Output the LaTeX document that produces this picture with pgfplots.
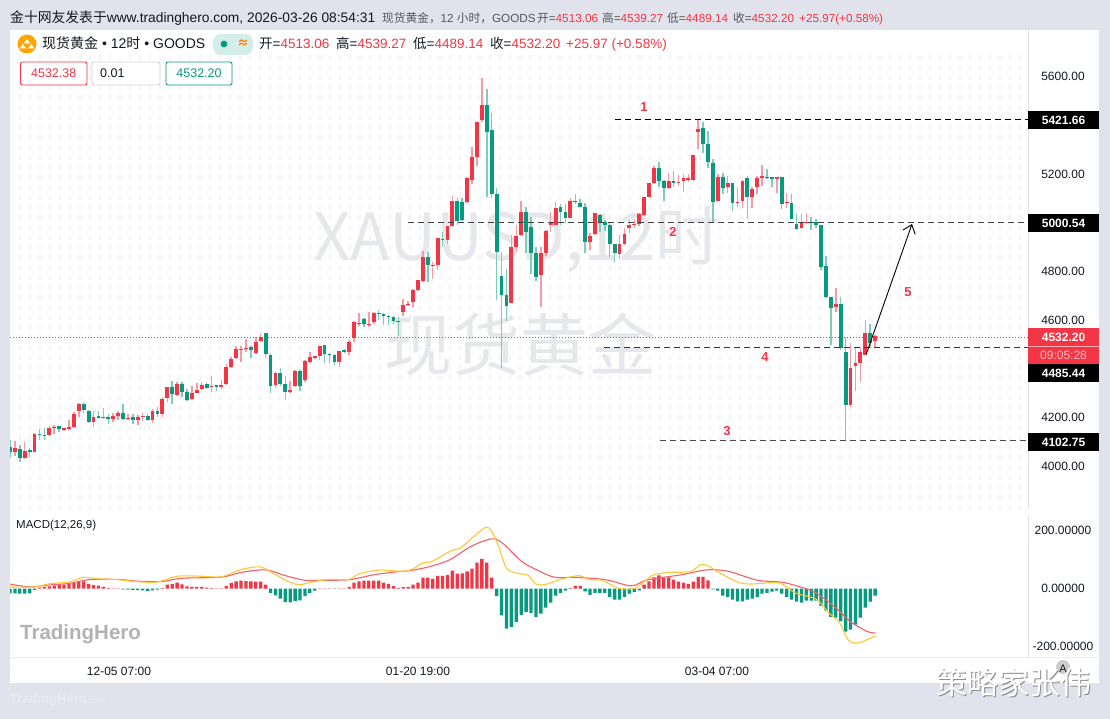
\documentclass[border=0pt]{standalone}
\usepackage{pgfplots}
\usepackage{pgfplotstable}
\usepackage{fontspec}
\pgfplotsset{compat=1.18}
\usetikzlibrary{arrows.meta}
\setmainfont{Liberation Sans}
\newfontfamily\cjk{Noto Sans CJK SC}
\newcommand{\zh}[1]{{\cjk #1}}
\definecolor{tvred}{HTML}{F23645}
\definecolor{tvgreen}{HTML}{089981}
\definecolor{redwick}{HTML}{F79AA3}
\definecolor{greenwick}{HTML}{7FCCBA}
\definecolor{pagegrey}{HTML}{E0E3EB}
\definecolor{griddot}{HTML}{F3F4F7}
\definecolor{wm}{HTML}{E6E7EB}
\definecolor{ink}{HTML}{131722}
\definecolor{hdgrey}{HTML}{55585F}
\definecolor{fastl}{HTML}{FFC733}
\definecolor{slowl}{HTML}{F4616A}
\pgfplotstableread{
i o h l c
1 4058 4104 4043 4073
3 4032 4097 4029 4062
5 4059 4134 4059 4133
8 4129 4166 4127 4158
9 4159 4169 4131 4162
11 4149 4158 4147 4155
12 4153 4189 4151 4159
13 4160 4223 4159 4214
14 4227 4260 4203 4255
17 4182 4226 4162 4200
19 4197 4237 4192 4200
21 4194 4216 4182 4205
22 4205 4227 4189 4219
24 4194 4214 4192 4199
26 4190 4210 4167 4200
27 4203 4216 4186 4207
29 4189 4234 4178 4226
31 4214 4282 4201 4277
32 4281 4326 4263 4326
34 4293 4346 4292 4337
37 4274 4330 4271 4299
38 4299 4340 4299 4312
39 4316 4344 4312 4334
41 4325 4371 4305 4329
43 4326 4353 4318 4334
44 4335 4418 4333 4405
45 4405 4446 4403 4441
46 4445 4494 4442 4481
47 4478 4493 4427 4481
48 4482 4522 4470 4486
50 4464 4528 4463 4511
51 4512 4546 4508 4528
54 4333 4388 4322 4381
57 4303 4349 4299 4312
58 4329 4394 4326 4392
60 4354 4436 4347 4433
61 4429 4470 4422 4447
62 4444 4452 4440 4450
63 4450 4493 4436 4491
67 4429 4474 4406 4473
69 4470 4518 4456 4509
70 4525 4597 4511 4593
71 4584 4628 4576 4589
73 4580 4632 4570 4582
74 4591 4632 4584 4630
80 4633 4686 4617 4661
81 4661 4678 4659 4665
82 4673 4726 4655 4723
83 4723 4765 4721 4762
84 4759 4884 4756 4860
86 4823 4840 4769 4827
87 4826 4936 4806 4936
89 4930 4986 4912 4984
90 4986 5110 4984 5090
93 5086 5189 5083 5181
94 5175 5309 5157 5268
95 5271 5415 5233 5415
96 5420 5593 5415 5481
102 4669 4947 4669 4901
103 4901 4990 4881 4945
104 4949 5089 4947 5045
108 4785 4899 4652 4874
109 4877 4970 4864 4966
110 4990 5042 4963 4997
111 4990 5086 4990 5059
114 5020 5100 5020 5090
118 4922 4956 4887 4946
119 4952 5041 4949 5041
124 4870 4949 4849 4912
125 4912 4976 4908 4953
126 4976 5011 4959 4990
127 4989 5013 4976 4993
128 4994 5038 4986 5035
129 5031 5106 5030 5104
130 5104 5164 5104 5161
131 5164 5232 5161 5226
134 5141 5205 5137 5171
136 5164 5195 5150 5168
137 5171 5200 5127 5182
138 5173 5200 5165 5184
139 5175 5278 5172 5278
140 5372 5421 5301 5384
144 5090 5200 5090 5186
146 5145 5191 5120 5161
148 5082 5145 5063 5086
149 5089 5175 5059 5171
151 5106 5145 5059 5137
152 5145 5191 5116 5182
153 5182 5236 5150 5191
156 5180 5189 5123 5186
158 5079 5123 5059 5086
161 4976 5035 4972 5000
162 5000 5041 4994 5004
168 4652 4733 4634 4664
171 4251 4507 4241 4401
172 4411 4484 4306 4422
173 4425 4484 4347 4467
174 4456 4600 4456 4548
176 4513.06 4539.27 4489.14 4532.20
}\upbars
\pgfplotstableread{
i o h l c
0 4077 4107 4034 4056
2 4070 4086 4018 4032
4 4066 4075 4038 4059
6 4131 4152 4107 4127
7 4129 4155 4107 4125
10 4163 4166 4140 4153
15 4255 4262 4216 4230
16 4226 4230 4178 4181
18 4204 4226 4192 4197
20 4201 4212 4173 4194
23 4218 4255 4190 4194
25 4200 4212 4174 4188
28 4207 4212 4186 4189
30 4227 4244 4200 4214
33 4326 4349 4255 4297
35 4337 4344 4282 4303
36 4304 4315 4268 4271
40 4335 4340 4315 4320
42 4331 4333 4307 4326
49 4489 4494 4445 4476
52 4546 4546 4444 4459
53 4456 4464 4301 4330
55 4381 4401 4329 4336
56 4338 4370 4271 4305
59 4392 4394 4308 4330
64 4495 4498 4422 4461
65 4461 4463 4422 4454
66 4456 4460 4415 4429
68 4477 4480 4463 4470
72 4604 4607 4570 4584
75 4628 4639 4600 4624
76 4626 4628 4580 4618
77 4617 4621 4580 4611
78 4614 4618 4582 4597
79 4597 4614 4536 4595
85 4860 4878 4755 4827
88 4933 4963 4899 4929
91 5089 5100 4988 5008
92 5083 5100 5008 5011
97 5482 5548 5104 5371
98 5381 5449 5100 5118
99 5118 5144 4680 4881
100 4781 4881 4402 4703
101 4703 4810 4597 4659
105 5045 5062 4874 4963
106 4981 5021 4789 4874
107 4874 4901 4758 4775
112 5062 5075 4990 5042
113 5042 5075 5000 5020
115 5090 5118 5075 5083
116 5082 5097 5063 5063
117 5063 5079 4877 4922
120 5031 5035 4963 5000
121 5004 5011 4967 4990
122 4990 5000 4857 4912
123 4911 4912 4840 4877
132 5226 5249 5145 5171
133 5171 5175 5090 5142
135 5171 5213 5145 5164
141 5387 5415 5284 5321
142 5321 5378 5226 5247
143 5243 5260 5000 5086
145 5186 5202 5117 5141
147 5164 5164 5047 5082
150 5182 5191 5013 5106
154 5189 5220 5178 5185
155 5186 5186 5148 5178
157 5186 5189 5054 5076
159 5079 5117 5013 5013
160 4994 5035 4970 4972
163 5004 5024 4970 4997
164 5002 5013 4976 4989
165 4990 4990 4805 4816
166 4823 4863 4689 4696
167 4696 4696 4497 4648
169 4666 4693 4477 4484
170 4470 4531 4102.75 4251
175 4548 4583 4484 4507
}\dnbars
\pgfplotstableread{
i v
0 -16
1 -16
2 -17
3 -17
4 -16
5 -4
6 4
7 6
8 8
9 11
10 13
11 14
12 17
13 20
14 25
15 25
16 17
17 12
18 11
19 6
20 3
21 1
22 1
23 -2
24 -3
25 -4
26 -5
27 -6
28 -8
29 -6
30 -3
31 2
32 14
33 16
34 21
35 15
36 8
37 6
38 6
39 6
40 4
41 2
42 1
43 1
44 9
45 20
46 25
47 28
48 26
49 25
50 24
51 24
52 14
53 -14
54 -23
55 -34
56 -46
57 -47
58 -42
59 -40
60 -26
61 -14
62 -7
63 1
64 1
65 1
66 -1
67 1
68 1
69 6
70 21
71 25
72 28
73 28
74 28
75 28
76 21
77 16
78 9
79 3
80 5
81 6
82 14
83 21
84 38
85 38
86 34
87 44
88 44
89 47
90 62
91 52
92 53
93 60
94 69
95 90
96 103
97 90
98 38
99 -26
100 -92
101 -138
102 -132
103 -115
104 -90
105 -80
106 -83
107 -97
108 -86
109 -65
110 -48
111 -24
112 -14
113 -7
114 2
115 10
116 10
117 -9
118 -21
119 -14
120 -14
121 -14
122 -28
123 -38
124 -38
125 -28
126 -17
127 -11
128 -6
129 14
130 25
131 39
132 46
133 38
134 39
135 31
136 24
137 21
138 17
139 24
140 41
141 41
142 29
143 -2
144 -7
145 -24
146 -28
147 -38
148 -44
149 -44
150 -38
151 -34
152 -28
153 -17
154 -14
155 -10
156 -7
157 -17
158 -28
159 -38
160 -45
161 -48
162 -41
163 -41
164 -41
165 -59
166 -76
167 -97
168 -100
169 -113
170 -148
171 -141
172 -124
173 -100
174 -65
175 -45
176 -24
}\hist
\pgfplotstableread{
i v
0 6
5 6
8 17
12 23
15 39
18 34
22 31
26 24
30 23
34 43
39 43
43 41
47 66
51 75
54 48
57 22
59 14
62 25
65 32
69 32
71 51
75 64
80 60
82 69
84 89
86 95
89.5 129
91.7 141
94 175
96.8 212
98 198
99.4 146
101 71
103 54
105.4 46
107 16
108.8 14
111.8 31
115.7 45
117.8 31
120.4 29
123.8 2
127.2 2
130.7 46
134 56
138.4 59
140.5 83
142 79
144.4 54
147.8 25
150.4 16
156.4 20
159.8 -15
164 -36
166.6 -84
168.8 -118
170.5 -176
172.6 -187
176.1 -162
}\fastline
\pgfplotstableread{
i v
0 16
4 6
8 13
12 18
16 31
22 32
26 26
31 25
35 36
43 40
47 56
52 65
56 45
60 29
63 29
69 31
74 48
78 57
82 64
86 79
89.5 100
93.8 146
98 172
100.2 157
104.1 94
107.5 62
110.9 39
115.2 39
121.2 31
126.4 10
129.8 31
136.6 48
141.8 65
146.1 60
152.1 29
157.2 22
162.4 -3
165 -26
168.4 -72
170.9 -113
174.3 -147
176.1 -153
}\slowline
\begin{document}
\begin{tikzpicture}[x=1pt,y=1pt]
\path[use as bounding box] (0,0) rectangle (1110,719);
\fill[pagegrey] (0,0) rectangle (1110,719);
\fill[white] (10,36) rectangle (1099,689);
% dotted grid of the price pane
\foreach \gx in {20,30,...,1020} {
  \draw[griddot,line width=1.4pt,dash pattern=on 5pt off 5pt] (\gx,209) -- (\gx,665);
}
% watermark
\node[wm,font=\cjk\fontsize{65}{65}\selectfont,inner sep=0] at (517,479) {XAUUSD,12时};
\node[wm,font=\cjk\fontsize{68}{68}\selectfont,inner sep=0] at (520,375) {现货黄金};
% top header line
\tikzset{hd/.style={anchor=base west,inner sep=0,font=\fontsize{11.7}{11.7}\selectfont}}
\node[anchor=base west,inner sep=0,font=\fontsize{13.8}{13.8}\selectfont,text=ink] at (10,696.5)
 {\zh{金十网友发表于}www.tradinghero.com, 2026-03-26 08:54:31};
\node[hd,text=hdgrey] at (382,696.5) {\zh{现货黄金，}12 \zh{小时，}GOODS};
\node[hd,text=hdgrey] at (537,696.5) {\zh{开}=\textcolor{tvred}{4513.06}};
\node[hd,text=hdgrey] at (602,696.5) {\zh{高}=\textcolor{tvred}{4539.27}};
\node[hd,text=hdgrey] at (667,696.5) {\zh{低}=\textcolor{tvred}{4489.14}};
\node[hd,text=hdgrey] at (733,696.5) {\zh{收}=\textcolor{tvred}{4532.20}};
\node[hd,text=tvred] at (799,696.5) {+25.97(+0.58\%)};
% symbol line
\fill[orange!70!yellow] (27,675) circle (9.5);
\fill[white] (27,680) -- (23.8,675.5) -- (30.2,675.5) -- cycle;
\fill[white] (22.8,675) -- (19.6,670.5) -- (26,670.5) -- cycle;
\fill[white] (31.2,675) -- (28,670.5) -- (34.4,670.5) -- cycle;
\node[anchor=base west,inner sep=0,font=\fontsize{14}{14}\selectfont,text=ink] at (42,670)
 {\zh{现货黄金} • 12\zh{时} • GOODS};
\fill[tvgreen!18,rounded corners=8pt] (213,664) rectangle (253,685);
\fill[tvgreen] (224,675) circle (3.4);
\node[text=orange,font=\bfseries\fontsize{12}{12}\selectfont,inner sep=0] at (243,675) {\zh{≈}};
\tikzset{hs/.style={anchor=base west,inner sep=0,font=\fontsize{13.5}{13.5}\selectfont,text=ink}}
\node[hs] at (259,670) {\zh{开}=\textcolor{tvred}{4513.06}};
\node[hs] at (336,670) {\zh{高}=\textcolor{tvred}{4539.27}};
\node[hs] at (413,670) {\zh{低}=\textcolor{tvred}{4489.14}};
\node[hs] at (490,670) {\zh{收}=\textcolor{tvred}{4532.20}};
\node[hs,text=tvred] at (566,670) {+25.97 (+0.58\%)};
% trade boxes
\draw[tvred,rounded corners=2pt,line width=0.9pt,fill=white] (20.5,634) rectangle (87,657);
\node[text=tvred,font=\fontsize{12.5}{12.5}\selectfont,inner sep=0] at (53.7,645.5) {4532.38};
\draw[black!18,rounded corners=2pt,line width=0.9pt,fill=white] (92,634) rectangle (160,657);
\node[text=ink,anchor=west,font=\fontsize{12.5}{12.5}\selectfont,inner sep=0] at (100,645.5) {0.01};
\draw[tvgreen,rounded corners=2pt,line width=0.9pt,fill=white] (166,634) rectangle (232,657);
\node[text=tvgreen,font=\fontsize{12.5}{12.5}\selectfont,inner sep=0] at (199,645.5) {4532.20};
% price pane
\begin{axis}[
  at={(10pt,209pt)},anchor=south west,scale only axis,width=1019pt,height=480pt,
  xmin=0,xmax=207.3,ymin=3819.2,ymax=5791.1,
  axis x line=none,axis y line*=right,
  y axis line style={draw=pagegrey,line width=1pt,-},
  xtick=\empty,
  ytick={4000,4200,4600,4800,5200,5600},
  major tick length=0pt,
  yticklabel style={anchor=center,xshift=34pt,text=ink,font=\fontsize{12}{12}\selectfont,
    /pgf/number format/.cd,fixed,fixed zerofill,precision=2,1000 sep={},assume math mode=true},
]
\addplot[draw=none,mark=none,forget plot,error bars/.cd,y dir=both,y explicit,error mark=none,
  error bar style={draw=redwick,line width=1.5pt}]
  table[x=i,y=o,y error plus expr=\thisrow{h}-\thisrow{o},y error minus expr=\thisrow{o}-\thisrow{l}] {\upbars};
\addplot[draw=none,mark=none,forget plot,error bars/.cd,y dir=both,y explicit,error mark=none,
  error bar style={draw=greenwick,line width=1.5pt}]
  table[x=i,y=o,y error plus expr=\thisrow{h}-\thisrow{o},y error minus expr=\thisrow{o}-\thisrow{l}] {\dnbars};
\addplot[draw=none,mark=none,forget plot,error bars/.cd,y dir=both,y explicit,error mark=none,
  error bar style={draw=tvred,line width=3.8pt}]
  table[x=i,y=o,y error plus expr=\thisrow{c}-\thisrow{o},y error minus expr=0] {\upbars};
\addplot[draw=none,mark=none,forget plot,error bars/.cd,y dir=both,y explicit,error mark=none,
  error bar style={draw=tvgreen,line width=3.8pt}]
  table[x=i,y=c,y error plus expr=\thisrow{o}-\thisrow{c},y error minus expr=0] {\dnbars};
% current price and drawn levels
\addplot[tvred,line width=0.8pt,dash pattern=on 1pt off 2pt,forget plot] coordinates {(0,4530) (207.3,4530)};
\addplot[black,line width=1pt,dash pattern=on 6pt off 4pt,forget plot] coordinates {(123.1,5421.66) (207.3,5421.66)};
\addplot[black!75,line width=1pt,dash pattern=on 6pt off 4pt,forget plot] coordinates {(81,5000.54) (207.3,5000.54)};
\addplot[black!80,line width=1pt,dash pattern=on 6pt off 4pt,forget plot] coordinates {(120.9,4485.44) (207.3,4485.44)};
\addplot[black!70,line width=1pt,dash pattern=on 6pt off 4pt,forget plot] coordinates {(132.2,4102.75) (207.3,4102.75)};
\addplot[black,line width=0.9pt,-{Straight Barb[length=8pt,width=13pt]},forget plot] coordinates {(174.2,4460) (183.5,4994)};
\end{axis}
% MACD pane
\begin{axis}[
  at={(10pt,62pt)},anchor=south west,scale only axis,width=1019pt,height=143pt,
  xmin=0,xmax=207.3,ymin=-235.5,ymax=257.6,
  axis x line=none,axis y line*=right,
  y axis line style={draw=pagegrey,line width=1pt,-},
  ytick={-200,0,200},
  major tick length=0pt,
  yticklabel style={anchor=center,xshift=34pt,text=ink,font=\fontsize{12}{12}\selectfont,
    /pgf/number format/.cd,fixed,fixed zerofill,precision=5,1000 sep={},assume math mode=true},
]
\addplot[ybar,bar width=3.3pt,bar shift=0pt,draw=none,fill=tvred,forget plot,restrict y to domain=0:400] table[x=i,y=v] {\hist};
\addplot[ybar,bar width=3.3pt,bar shift=0pt,draw=none,fill=tvgreen,forget plot,restrict y to domain=-400:0] table[x=i,y=v] {\hist};
\addplot[slowl,line width=1.1pt,smooth,tension=0.5,forget plot] table[x=i,y=v] {\slowline};
\addplot[fastl,line width=1.1pt,smooth,tension=0.5,forget plot] table[x=i,y=v] {\fastline};
\end{axis}
\draw[pagegrey!70,line width=0.8pt] (10,62) -- (1099,62);
% time labels
\node[text=ink,font=\fontsize{12}{12}\selectfont,inner sep=0] at (119,48) {12-05 07:00};
\node[text=ink,font=\fontsize{12}{12}\selectfont,inner sep=0] at (418,48) {01-20 19:00};
\node[text=ink,font=\fontsize{12}{12}\selectfont,inner sep=0] at (717,48) {03-04 07:00};
\node[text=ink,font=\fontsize{11.5}{11.5}\selectfont,inner sep=0,anchor=west] at (16,193) {MACD(12,26,9)};
\node[text=black!30,font=\bfseries\fontsize{20.5}{20.5}\selectfont,inner sep=0,anchor=west] at (20,85) {TradingHero};
\node[text=black!8,font=\bfseries\fontsize{13}{13}\selectfont,inner sep=0,anchor=west] at (10,19) {TradingHero\fontsize{8}{8}\selectfont .com};
% price tags
\fill[black] (1028,590) rectangle (1099,608);
\node[white,font=\bfseries\fontsize{12}{12}\selectfont,inner sep=0] at (1063.5,599) {5421.66};
\fill[black] (1028,487) rectangle (1099,505);
\node[white,font=\bfseries\fontsize{12}{12}\selectfont,inner sep=0] at (1063.5,496) {5000.54};
\fill[tvred] (1028,355) rectangle (1099,391);
\draw[white!60!tvred,line width=0.5pt] (1028,373) -- (1099,373);
\node[white,font=\bfseries\fontsize{12}{12}\selectfont,inner sep=0] at (1063.5,382) {4532.20};
\node[text=white!65!tvred,font=\fontsize{12}{12}\selectfont,inner sep=0] at (1063.5,364) {09:05:28};
\fill[black] (1028,337) rectangle (1099,355);
\node[white,font=\bfseries\fontsize{12}{12}\selectfont,inner sep=0] at (1063.5,346) {4485.44};
\fill[black] (1028,268) rectangle (1099,286);
\node[white,font=\bfseries\fontsize{12}{12}\selectfont,inner sep=0] at (1063.5,277) {4102.75};
% wave numbers
\foreach \lab/\lx/\ly in {1/644/612,2/673/487,3/727/288,4/765/362,5/908/427} {
  \node[text=tvred,font=\bfseries\fontsize{13}{13}\selectfont,inner sep=0] at (\lx,\ly) {\lab};
}
% corner
\fill[black!20] (1063,52) circle (7);
\node[text=ink,font=\fontsize{11}{11}\selectfont,inner sep=0] at (1063,50) {A};
\node[text=black!45,font=\cjk\fontsize{31}{31}\selectfont,inner sep=0] at (1014.5,35.5) {策略家张伟};
\node[text=white,font=\cjk\fontsize{31}{31}\selectfont,inner sep=0] at (1013.5,36.5) {策略家张伟};
\end{tikzpicture}
\end{document}
